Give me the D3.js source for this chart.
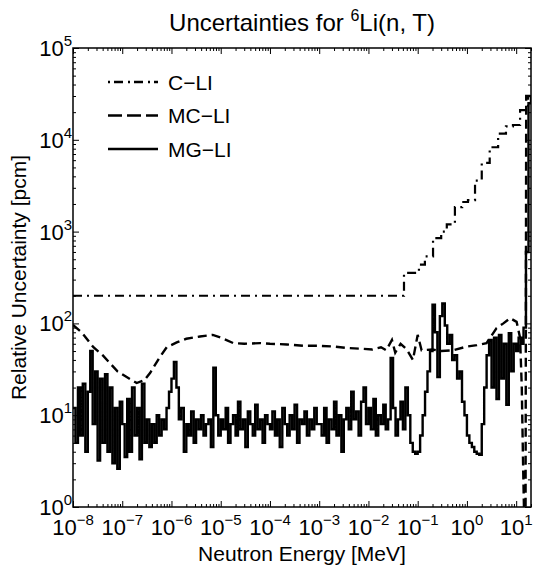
<!DOCTYPE html>
<html>
<head>
<meta charset="utf-8">
<script src="https://cdn.jsdelivr.net/npm/d3@7"></script>
<style>
  body { margin: 0; background: #fff; }
  svg { display: block; font-family: "Liberation Sans", Arial, Helvetica, sans-serif; }
  .tick line { stroke: #000; stroke-width: 1; }
</style>
</head>
<body>
<div id="vis"></div>
<script>
// Uncertainties for 6Li(n,T) - three log-log curves

/* ---------------- data ---------------- */

// x axis decades and y axis decades (tick labels are 10^k)
var xTickExps = [-8, -7, -6, -5, -4, -3, -2, -1, 0, 1];
var yTickExps = [0, 1, 2, 3, 4, 5];

// C-LI : stepwise
var cEnergy = [1e-8, 0.0527, 0.106, 0.14, 0.205, 0.3, 0.39, 0.57, 0.8, 1.05, 1.46, 2.0, 2.9, 4.3, 6.2, 8.6, 12, 17.4, 20];
var cValue  = [200, 355, 436, 537, 850, 1000, 1200, 1850, 2100, 2200, 3600, 5600, 8300, 11700, 14000, 14500, 21000, 30000, 30000];

// MC-LI : smooth dashed curve
var mcEnergy = [1e-8, 1.5e-8, 2.6e-8, 4e-8, 5.6e-8, 8e-8, 1.23e-7, 1.96e-7, 2.8e-7, 3.7e-7, 5.8e-7, 8e-7,
                1.28e-6, 2e-6, 3.8e-6, 6.9e-6, 1e-5, 1.8e-5, 3e-5, 6.3e-5, 1e-4, 2.2e-4, 5e-4, 1e-3,
                2e-3, 3.6e-3, 7e-3, 0.012, 0.018, 0.023, 0.03, 0.035, 0.045, 0.06, 0.08, 0.1, 0.12,
                0.2, 0.3, 0.52, 1.0, 1.6, 2.5, 4.0, 5.5, 7.5, 10.2, 12, 13, 13.8, 14.5, 15.5, 16, 20];
var mcValue  = [96, 80, 55, 45, 37, 30, 26, 22.4, 24, 29, 43, 55,
                62, 68, 72, 75, 70, 61, 60, 61, 60, 59, 57, 57,
                56, 54, 53, 52, 55, 51, 66, 48, 60, 52, 40, 75, 51,
                52, 50, 51, 56, 58, 61, 89, 100, 114, 104, 70, 20, 3, 0.8, 0.8, 30000, 30000];

// MG-LI : noisy group-wise values, 20 groups per decade
var mgGroupSteps = [1.00, 1.12, 1.26, 1.41, 1.58, 1.78, 2.00, 2.24, 2.51, 2.82,
                    3.16, 3.55, 3.98, 4.47, 5.01, 5.62, 6.31, 7.08, 7.94, 8.91];
var mgDecades = [-8, -7, -6, -5, -4, -3, -2, -1, 0, 1];
var mgValues = [
  [12, 5, 20, 6, 22, 4, 18, 50, 8, 30, 3.2, 25, 5, 28, 4, 20, 3, 12, 2.6, 14],
  [8, 3.5, 15, 4, 20, 6, 12, 3.3, 22, 5, 9, 4.5, 8, 5, 10, 6, 9, 7, 12, 18],
  [25, 38, 20, 9, 12, 4, 8, 6, 11, 5, 9, 7, 10, 6, 8, 9, 4.5, 33, 10, 6],
  [9, 7, 12, 5, 8, 10, 6, 14, 7, 9, 4.5, 11, 8, 6, 13, 7, 9, 5, 10, 8],
  [7, 11, 6, 9, 4.5, 12, 8, 6, 10, 7, 13, 5, 9, 8, 11, 6, 9, 7, 12, 8],
  [8, 6, 12, 5, 9, 7, 14, 6, 10, 4, 9, 12, 7, 18, 9, 11, 6, 14, 20, 8],
  [12, 7, 15, 6, 10, 8, 13, 7, 9, 42, 12, 6, 9, 14, 7, 20, 10, 5, 4, 3.8],
  [4, 6, 10, 18, 30, 50, 160, 80, 26, 120, 165, 95, 60, 75, 40, 45, 25, 30, 14, 10],
  [6, 5, 4.5, 4, 3.8, 3.7, 8, 20, 45, 66, 20, 70, 15, 75, 25, 60, 13, 78, 30, 60],
  [50, 70, 60, 90, 600, 25000, 30000]
];

var legendNames = ['C\u2212LI', 'MC\u2212LI', 'MG\u2212LI'];

/* ---------------- layout ---------------- */
var width = 533, height = 568;
var margin = { left: 73, top: 48, right: 2, bottom: 61 };
var drawWidth = width - margin.left - margin.right;
var drawHeight = height - margin.top - margin.bottom;

var svg = d3.select('#vis').append('svg')
    .attr('width', width)
    .attr('height', height);

var xScale = d3.scaleLog().domain([1e-8, 20]).range([0, drawWidth]);
var yScale = d3.scaleLog().domain([1, 1e5]).range([drawHeight, 0]);

var g = svg.append('g')
    .attr('transform', 'translate(' + margin.left + ',' + margin.top + ')');

svg.append('defs').append('clipPath').attr('id', 'clip')
  .append('rect').attr('width', drawWidth).attr('height', drawHeight);

/* ---------------- ticks ---------------- */
var xMajor = xTickExps.map(function(k) { return Math.pow(10, k); });
var yMajor = yTickExps.map(function(k) { return Math.pow(10, k); });
var xMinor = [], yMinor = [];
xTickExps.forEach(function(k) {
  for (var m = 2; m <= 9; m++) { var v = m * Math.pow(10, k); if (v <= 20) xMinor.push(v); }
});
yTickExps.slice(0, -1).forEach(function(k) {
  for (var m = 2; m <= 9; m++) yMinor.push(m * Math.pow(10, k));
});

function noDomain(sel) { sel.select('.domain').remove(); }

g.append('g').attr('transform', 'translate(0,' + drawHeight + ')')
  .call(d3.axisBottom(xScale).tickValues(xMajor).tickSize(-6).tickFormat('')).call(noDomain);
g.append('g').attr('transform', 'translate(0,' + drawHeight + ')')
  .call(d3.axisBottom(xScale).tickValues(xMinor).tickSize(-3).tickFormat('')).call(noDomain);
g.append('g')
  .call(d3.axisTop(xScale).tickValues(xMajor).tickSize(-6).tickFormat('')).call(noDomain);
g.append('g')
  .call(d3.axisTop(xScale).tickValues(xMinor).tickSize(-3).tickFormat('')).call(noDomain);
g.append('g')
  .call(d3.axisLeft(yScale).tickValues(yMajor).tickSize(-6).tickFormat('')).call(noDomain);
g.append('g')
  .call(d3.axisLeft(yScale).tickValues(yMinor).tickSize(-3).tickFormat('')).call(noDomain);
g.append('g').attr('transform', 'translate(' + drawWidth + ',0)')
  .call(d3.axisRight(yScale).tickValues(yMajor).tickSize(-6).tickFormat('')).call(noDomain);
g.append('g').attr('transform', 'translate(' + drawWidth + ',0)')
  .call(d3.axisRight(yScale).tickValues(yMinor).tickSize(-3).tickFormat('')).call(noDomain);

// tick labels  10^k
function expLabel(sel) {
  sel.append('tspan').text('10');
  sel.append('tspan')
    .attr('dy', -10)
    .style('font-size', '15px')
    .text(function(k) { return k < 0 ? '\u2212' + (-k) : k; });
}

g.selectAll('.xlab').data(xTickExps).enter().append('text')
  .attr('class', 'xlab')
  .attr('x', function(k) { return xScale(Math.pow(10, k)); })
  .attr('y', drawHeight + 28)
  .attr('text-anchor', 'middle')
  .style('font-size', '22px')
  .call(expLabel);

g.selectAll('.ylab').data(yTickExps).enter().append('text')
  .attr('class', 'ylab')
  .attr('x', -1)
  .attr('y', function(k) { return yScale(Math.pow(10, k)) + 8; })
  .attr('text-anchor', 'end')
  .style('font-size', '22px')
  .call(expLabel);

/* ---------------- curves ---------------- */
var plot = g.append('g').attr('clip-path', 'url(#clip)');

var cData = cEnergy.map(function(e, i) { return [e, cValue[i]]; });
var mcData = mcEnergy.map(function(e, i) { return [e, mcValue[i]]; });
var mgData = [];
mgDecades.forEach(function(k, d) {
  mgValues[d].forEach(function(v, i) { mgData.push([mgGroupSteps[i] * Math.pow(10, k), v]); });
});
mgData.push([20, mgData[mgData.length - 1][1]]);

var lineStep = d3.line()
  .x(function(d) { return xScale(d[0]); })
  .y(function(d) { return yScale(Math.max(d[1], 0.5)); })
  .curve(d3.curveStepAfter);
var lineLin = d3.line()
  .x(function(d) { return xScale(d[0]); })
  .y(function(d) { return yScale(Math.max(d[1], 0.5)); });

plot.append('path').datum(mgData)
  .attr('d', lineStep)
  .attr('fill', 'none').attr('stroke', '#000').attr('stroke-width', 2.4)
  .attr('stroke-linejoin', 'miter');

plot.append('path').datum(mcData)
  .attr('d', lineLin)
  .attr('fill', 'none').attr('stroke', '#000').attr('stroke-width', 2.4)
  .attr('stroke-dasharray', '9,5');

plot.append('path').datum(cData)
  .attr('d', lineStep)
  .attr('fill', 'none').attr('stroke', '#000').attr('stroke-width', 2.2)
  .attr('stroke-dasharray', '9,5,2,5');

// frame
g.append('rect')
  .attr('width', drawWidth).attr('height', drawHeight)
  .attr('fill', 'none').attr('stroke', '#000').attr('stroke-width', 1.5);

/* ---------------- legend ---------------- */
var dashes = ['2,4,9,5', '14,5', null];
var legend = g.selectAll('.legend').data(legendNames).enter().append('g')
  .attr('class', 'legend')
  .attr('transform', function(d, i) { return 'translate(35,' + (34 + i * 33.5) + ')'; });
legend.append('line')
  .attr('x1', 0).attr('x2', 50)
  .attr('stroke', '#000').attr('stroke-width', 2.4)
  .attr('stroke-dasharray', function(d, i) { return dashes[i]; });
legend.append('text')
  .attr('x', 60).attr('y', 7.5)
  .style('font-size', '21px')
  .text(function(d) { return d; });

/* ---------------- titles ---------------- */
var title = svg.append('text')
  .attr('x', margin.left + drawWidth / 2)
  .attr('y', 31)
  .attr('text-anchor', 'middle')
  .style('font-size', '24px');
title.append('tspan').text('Uncertainties for ');
title.append('tspan').attr('dy', -10).style('font-size', '16px').text('6');
title.append('tspan').attr('dy', 10).text('Li(n, T)');

svg.append('text')
  .attr('x', margin.left + drawWidth / 2)
  .attr('y', 561)
  .attr('text-anchor', 'middle')
  .style('font-size', '21px')
  .text('Neutron Energy [MeV]');

svg.append('text')
  .attr('transform', 'translate(26,' + (margin.top + drawHeight / 2) + ') rotate(-90)')
  .attr('text-anchor', 'middle')
  .style('font-size', '21px')
  .text('Relative Uncertainty [pcm]');
</script>
</body>
</html>
